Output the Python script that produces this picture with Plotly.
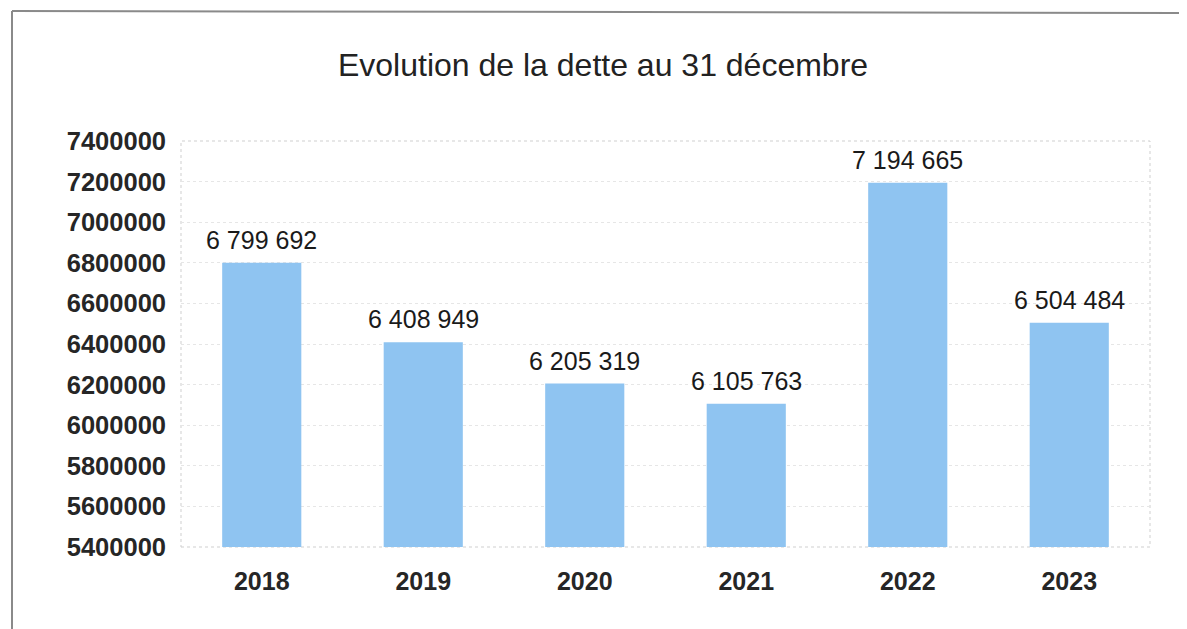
import plotly.graph_objects as go

years = ["2018", "2019", "2020", "2021", "2022", "2023"]
debt = [6799692, 6408949, 6205319, 6105763, 7194665, 6504484]
y_ticks = [5400000, 5600000, 5800000, 6000000, 6200000, 6400000, 6600000,
           6800000, 7000000, 7200000, 7400000]
title_text = "Evolution de la dette au 31 décembre"

W, H = 1179, 621          # page body has an 8px margin
ML, MR, MT, MB = 173, 37, 133, 82
PW, PH = W - ML - MR, H - MT - MB

def px_x(px):
    return (px - ML) / PW

def px_y(py):
    return (H - MB - py) / PH

font = "Liberation Sans, Arial, sans-serif"

fig = go.Figure(go.Bar(
    x=years, y=debt,
    marker=dict(color="#8fc4f1", line=dict(width=0)),
    hoverinfo="x+y",
))

# category axis: annotation x is the category's serial index
for i, v in enumerate(debt):
    fig.add_annotation(
        x=i, y=v, xref="x", yref="y",
        text=f"{v:,}".replace(",", " "),
        showarrow=False, yanchor="bottom", yshift=7,
        font=dict(family=font, size=25, color="#1a1a1a"),
    )

fig.update_layout(
    width=W, height=H,
    margin=dict(l=ML, r=MR, t=MT, b=MB),
    paper_bgcolor="white", plot_bgcolor="white",
    bargap=0.51,
    showlegend=False,
    title=dict(text=title_text, x=0.5047, xanchor="center", y=1 - 57 / H, yanchor="middle",
               font=dict(family=font, size=32, color="#222222")),
    xaxis=dict(type="category", range=[-0.5, len(years) - 0.5],
               showgrid=False, showline=False, zeroline=False, ticks="",
               tickfont=dict(family=font, size=25, color="#262626", weight="bold"),
               ticklabelstandoff=17),
    yaxis=dict(range=[5400000, 7400000], tickvals=y_ticks, tickformat="d",
               showgrid=True, gridcolor="#e6e6e6", griddash="dot", gridwidth=1,
               zeroline=False, showline=False, ticks="",
               tickfont=dict(family=font, size=25.5, color="#262626", weight="bold"),
               ticklabelstandoff=14),
    shapes=[
        dict(type="rect", xref="paper", yref="paper", x0=0, x1=1, y0=0, y1=1,
             line=dict(color="#cfcfcf", width=1, dash="dot"), layer="below"),
        dict(type="line", xref="paper", yref="paper",
             x0=px_x(4), x1=px_x(W), y0=px_y(3), y1=px_y(5),
             line=dict(color="#8a8a8a", width=2)),
        dict(type="line", xref="paper", yref="paper",
             x0=px_x(4), x1=px_x(4), y0=px_y(3), y1=px_y(H),
             line=dict(color="#8a8a8a", width=2)),
    ],
)

fig.write_html("out.html")
